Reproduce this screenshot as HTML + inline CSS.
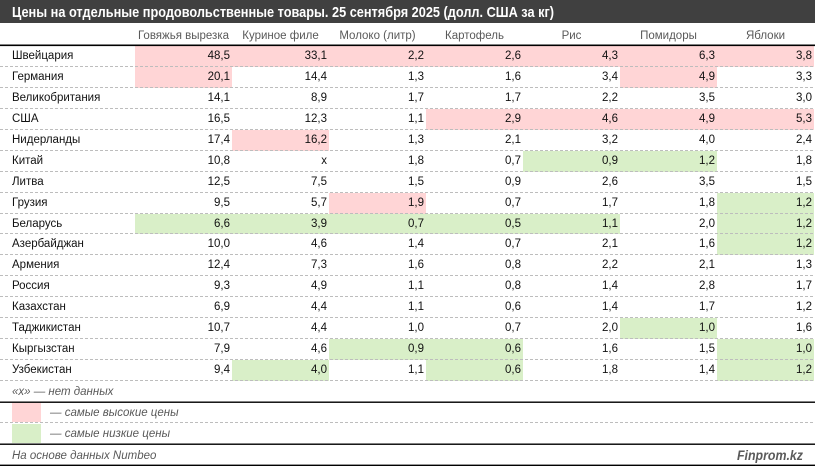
<!DOCTYPE html>
<html><head><meta charset="utf-8"><style>
html,body{margin:0;padding:0;background:#fff;}
svg{display:block;}
text{font-family:"Liberation Sans","DejaVu Sans",sans-serif;}
.lb{font-size:11.5px;fill:#111;}
.nm{font-size:11.5px;fill:#111;text-anchor:end;}
.hd{font-size:11.5px;fill:#595959;text-anchor:middle;}
.it{font-size:11.5px;fill:#595959;font-style:italic;}
.ds{stroke:#bdbdbd;stroke-width:1;stroke-dasharray:3,2;}
</style></head><body>
<svg width="815" height="466" viewBox="0 0 815 466" xmlns="http://www.w3.org/2000/svg">
<rect x="0" y="0" width="815" height="466" fill="#fff"/>
<rect x="0" y="0" width="815" height="23" fill="#404040"/>
<text x="12" y="17" font-size="15" font-weight="bold" fill="#fff" textLength="542" lengthAdjust="spacingAndGlyphs">Цены на отдельные продовольственные товары. 25 сентября 2025 (долл. США за кг)</text>

<!-- header -->
<text class="hd" x="183.5" y="39">Говяжья вырезка</text>
<text class="hd" x="280.5" y="39">Куриное филе</text>
<text class="hd" x="377.5" y="39">Молоко (литр)</text>
<text class="hd" x="474.5" y="39">Картофель</text>
<text class="hd" x="571.5" y="39">Рис</text>
<text class="hd" x="668.5" y="39">Помидоры</text>
<text class="hd" x="765.5" y="39">Яблоки</text>

<!-- fills: pink -->
<g fill="#ffd5d6">
<rect x="135" y="46" width="679" height="21"/>
<rect x="135" y="67" width="97" height="21"/>
<rect x="620" y="67" width="97" height="21"/>
<rect x="426" y="109" width="388" height="21"/>
<rect x="232" y="130" width="97" height="21"/>
<rect x="329" y="193" width="97" height="21"/>
</g>
<!-- fills: green -->
<g fill="#d9efc8">
<rect x="523" y="151" width="194" height="21"/>
<rect x="717" y="193" width="97" height="21"/>
<rect x="135" y="214" width="485" height="20"/>
<rect x="717" y="214" width="97" height="20"/>
<rect x="717" y="234" width="97" height="21"/>
<rect x="620" y="318" width="97" height="21"/>
<rect x="329" y="339" width="194" height="21"/>
<rect x="717" y="339" width="97" height="21"/>
<rect x="232" y="360" width="97" height="21"/>
<rect x="426" y="360" width="97" height="21"/>
<rect x="717" y="360" width="97" height="21"/>
</g>

<!-- dashed separators -->
<g class="ds">
<line x1="0" y1="66.5" x2="815" y2="66.5"/>
<line x1="0" y1="87.5" x2="815" y2="87.5"/>
<line x1="0" y1="108.5" x2="815" y2="108.5"/>
<line x1="0" y1="129.5" x2="815" y2="129.5"/>
<line x1="0" y1="150.5" x2="815" y2="150.5"/>
<line x1="0" y1="171.5" x2="815" y2="171.5"/>
<line x1="0" y1="192.5" x2="815" y2="192.5"/>
<line x1="0" y1="213.5" x2="815" y2="213.5"/>
<line x1="0" y1="233.5" x2="815" y2="233.5"/>
<line x1="0" y1="254.5" x2="815" y2="254.5"/>
<line x1="0" y1="275.5" x2="815" y2="275.5"/>
<line x1="0" y1="296.5" x2="815" y2="296.5"/>
<line x1="0" y1="317.5" x2="815" y2="317.5"/>
<line x1="0" y1="338.5" x2="815" y2="338.5"/>
<line x1="0" y1="359.5" x2="815" y2="359.5"/>
<line x1="0" y1="380.5" x2="815" y2="380.5"/>
<line x1="0" y1="422.5" x2="815" y2="422.5"/>
</g>

<!-- solid lines -->
<rect x="0" y="44.5" width="815" height="1.6" fill="#000"/>
<rect x="0" y="401.5" width="815" height="1.4" fill="#000"/>
<rect x="0" y="443.5" width="815" height="1.4" fill="#000"/>
<rect x="0" y="464.6" width="815" height="1.4" fill="#000"/>

<!-- rows -->
<g>
<text class="lb" x="12" y="59">Швейцария</text>
<text class="nm" x="230" y="59">48,5</text><text class="nm" x="327" y="59">33,1</text><text class="nm" x="424" y="59">2,2</text><text class="nm" x="521" y="59">2,6</text><text class="nm" x="618" y="59">4,3</text><text class="nm" x="715" y="59">6,3</text><text class="nm" x="812" y="59">3,8</text>

<text class="lb" x="12" y="80">Германия</text>
<text class="nm" x="230" y="80">20,1</text><text class="nm" x="327" y="80">14,4</text><text class="nm" x="424" y="80">1,3</text><text class="nm" x="521" y="80">1,6</text><text class="nm" x="618" y="80">3,4</text><text class="nm" x="715" y="80">4,9</text><text class="nm" x="812" y="80">3,3</text>

<text class="lb" x="12" y="101">Великобритания</text>
<text class="nm" x="230" y="101">14,1</text><text class="nm" x="327" y="101">8,9</text><text class="nm" x="424" y="101">1,7</text><text class="nm" x="521" y="101">1,7</text><text class="nm" x="618" y="101">2,2</text><text class="nm" x="715" y="101">3,5</text><text class="nm" x="812" y="101">3,0</text>

<text class="lb" x="12" y="122">США</text>
<text class="nm" x="230" y="122">16,5</text><text class="nm" x="327" y="122">12,3</text><text class="nm" x="424" y="122">1,1</text><text class="nm" x="521" y="122">2,9</text><text class="nm" x="618" y="122">4,6</text><text class="nm" x="715" y="122">4,9</text><text class="nm" x="812" y="122">5,3</text>

<text class="lb" x="12" y="143">Нидерланды</text>
<text class="nm" x="230" y="143">17,4</text><text class="nm" x="327" y="143">16,2</text><text class="nm" x="424" y="143">1,3</text><text class="nm" x="521" y="143">2,1</text><text class="nm" x="618" y="143">3,2</text><text class="nm" x="715" y="143">4,0</text><text class="nm" x="812" y="143">2,4</text>

<text class="lb" x="12" y="164">Китай</text>
<text class="nm" x="230" y="164">10,8</text><text class="nm" x="327" y="164">x</text><text class="nm" x="424" y="164">1,8</text><text class="nm" x="521" y="164">0,7</text><text class="nm" x="618" y="164">0,9</text><text class="nm" x="715" y="164">1,2</text><text class="nm" x="812" y="164">1,8</text>

<text class="lb" x="12" y="185">Литва</text>
<text class="nm" x="230" y="185">12,5</text><text class="nm" x="327" y="185">7,5</text><text class="nm" x="424" y="185">1,5</text><text class="nm" x="521" y="185">0,9</text><text class="nm" x="618" y="185">2,6</text><text class="nm" x="715" y="185">3,5</text><text class="nm" x="812" y="185">1,5</text>

<text class="lb" x="12" y="206">Грузия</text>
<text class="nm" x="230" y="206">9,5</text><text class="nm" x="327" y="206">5,7</text><text class="nm" x="424" y="206">1,9</text><text class="nm" x="521" y="206">0,7</text><text class="nm" x="618" y="206">1,7</text><text class="nm" x="715" y="206">1,8</text><text class="nm" x="812" y="206">1,2</text>

<text class="lb" x="12" y="227">Беларусь</text>
<text class="nm" x="230" y="227">6,6</text><text class="nm" x="327" y="227">3,9</text><text class="nm" x="424" y="227">0,7</text><text class="nm" x="521" y="227">0,5</text><text class="nm" x="618" y="227">1,1</text><text class="nm" x="715" y="227">2,0</text><text class="nm" x="812" y="227">1,2</text>

<text class="lb" x="12" y="247">Азербайджан</text>
<text class="nm" x="230" y="247">10,0</text><text class="nm" x="327" y="247">4,6</text><text class="nm" x="424" y="247">1,4</text><text class="nm" x="521" y="247">0,7</text><text class="nm" x="618" y="247">2,1</text><text class="nm" x="715" y="247">1,6</text><text class="nm" x="812" y="247">1,2</text>

<text class="lb" x="12" y="268">Армения</text>
<text class="nm" x="230" y="268">12,4</text><text class="nm" x="327" y="268">7,3</text><text class="nm" x="424" y="268">1,6</text><text class="nm" x="521" y="268">0,8</text><text class="nm" x="618" y="268">2,2</text><text class="nm" x="715" y="268">2,1</text><text class="nm" x="812" y="268">1,3</text>

<text class="lb" x="12" y="289">Россия</text>
<text class="nm" x="230" y="289">9,3</text><text class="nm" x="327" y="289">4,9</text><text class="nm" x="424" y="289">1,1</text><text class="nm" x="521" y="289">0,8</text><text class="nm" x="618" y="289">1,4</text><text class="nm" x="715" y="289">2,8</text><text class="nm" x="812" y="289">1,7</text>

<text class="lb" x="12" y="310">Казахстан</text>
<text class="nm" x="230" y="310">6,9</text><text class="nm" x="327" y="310">4,4</text><text class="nm" x="424" y="310">1,1</text><text class="nm" x="521" y="310">0,6</text><text class="nm" x="618" y="310">1,4</text><text class="nm" x="715" y="310">1,7</text><text class="nm" x="812" y="310">1,2</text>

<text class="lb" x="12" y="331">Таджикистан</text>
<text class="nm" x="230" y="331">10,7</text><text class="nm" x="327" y="331">4,4</text><text class="nm" x="424" y="331">1,0</text><text class="nm" x="521" y="331">0,7</text><text class="nm" x="618" y="331">2,0</text><text class="nm" x="715" y="331">1,0</text><text class="nm" x="812" y="331">1,6</text>

<text class="lb" x="12" y="352">Кыргызстан</text>
<text class="nm" x="230" y="352">7,9</text><text class="nm" x="327" y="352">4,6</text><text class="nm" x="424" y="352">0,9</text><text class="nm" x="521" y="352">0,6</text><text class="nm" x="618" y="352">1,6</text><text class="nm" x="715" y="352">1,5</text><text class="nm" x="812" y="352">1,0</text>

<text class="lb" x="12" y="373">Узбекистан</text>
<text class="nm" x="230" y="373">9,4</text><text class="nm" x="327" y="373">4,0</text><text class="nm" x="424" y="373">1,1</text><text class="nm" x="521" y="373">0,6</text><text class="nm" x="618" y="373">1,8</text><text class="nm" x="715" y="373">1,4</text><text class="nm" x="812" y="373">1,2</text>
</g>

<!-- notes & legend -->
<text class="it" x="12" y="395">«x» — нет данных</text>
<rect x="12" y="403" width="29" height="19" fill="#ffd5d6"/>
<text class="it" x="50" y="416">— самые высокие цены</text>
<rect x="12" y="424" width="29" height="19" fill="#d9efc8"/>
<text class="it" x="50" y="437">— самые низкие цены</text>
<text class="it" x="12" y="459">На основе данных Numbeo</text>
<text x="803" y="460" text-anchor="end" font-size="14" font-weight="bold" font-style="italic" fill="#5a5a5a" textLength="66" lengthAdjust="spacingAndGlyphs">Finprom.kz</text>
</svg>
</body></html>
